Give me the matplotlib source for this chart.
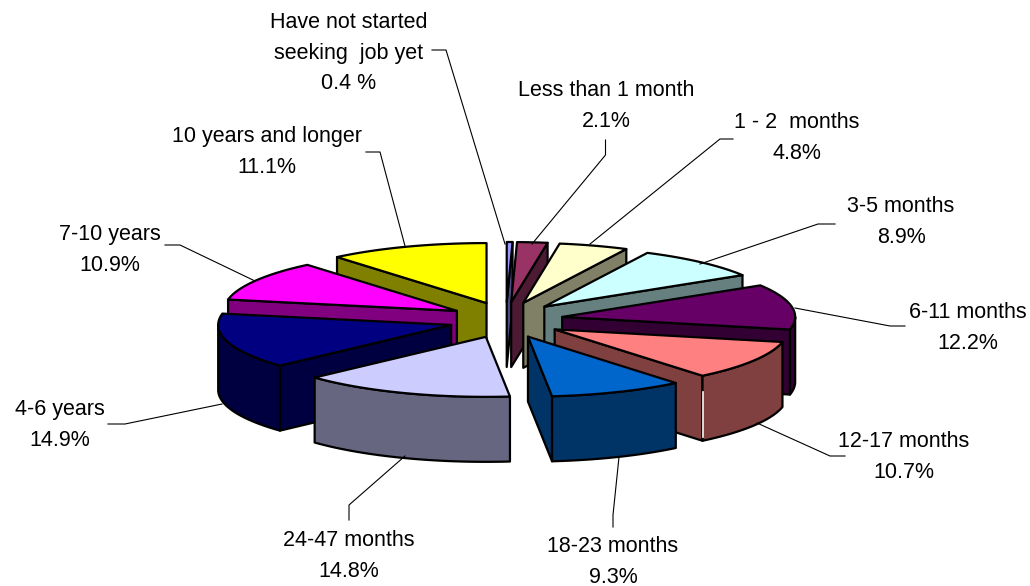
import numpy as np
import matplotlib
matplotlib.use("Agg")
import matplotlib.pyplot as plt
from matplotlib.patches import Polygon

plt.rcParams["font.family"] = ["Liberation Sans", "DejaVu Sans"]

# duration of job search, share in percent
labels = ["Have not started\nseeking  job yet\n0.4 %", "Less than 1 month\n2.1%", "1 - 2  months\n4.8%",
          "3-5 months\n8.9%", "6-11 months\n12.2%", "12-17 months\n10.7%", "18-23 months\n9.3%",
          "24-47 months\n14.8%", "4-6 years\n14.9%", "7-10 years\n10.9%", "10 years and longer\n11.1%"]
values = [0.4, 2.1, 4.8, 8.9, 12.2, 10.7, 9.3, 14.8, 14.9, 10.9, 11.1]
top_colors = ["#9999FF", "#993366", "#FFFFCC", "#CCFFFF", "#660066", "#FF8080",
              "#0066CC", "#CCCCFF", "#000080", "#FF00FF", "#FFFF00"]
side_colors = ["#4C4C80", "#4C1A33", "#808066", "#668080", "#330033", "#804040",
               "#003366", "#666680", "#000040", "#800080", "#808000"]

label_pos = [(349, 53), (606, 106), (797, 138), (901, 222), (968, 328), (904, 457),
             (613, 562), (349, 556), (60, 425), (110, 250), (267, 152)]
leaders = [[(432, 50), (446, 50), (505, 244)],
           [(605.5, 140), (605.5, 155), (532, 244)],
           [(733, 139), (720, 139), (590, 244)],
           [(835, 224), (818, 224), (700, 264)],
           [(905, 326), (890, 326), (795, 308)],
           [(845, 456), (830, 456), (757, 423)],
           [(613, 527), (613, 515), (619, 457)],
           [(349, 520), (349, 505), (405, 456)],
           [(108, 424), (125, 424), (222, 404)],
           [(165, 245), (180, 245), (255, 281)],
           [(366, 152), (380, 152), (405, 246)]]

CX, CY = 506, 320
RX, RY = 233, 60
EX, EY = 57, 18
DEPTH = 65


def rim(tip, angles):
    return np.column_stack([tip[0] + RX * np.sin(angles), tip[1] - RY * np.cos(angles)])


def draw_slice(ax, start, end, top, side):
    mid = (start + end) / 2
    tip = np.array([CX + EX * np.sin(mid), CY - EY * np.cos(mid)])
    style = dict(edgecolor="black", linewidth=1.6, joinstyle="round")
    down = np.array([0, DEPTH])

    def wall(points):
        points = np.asarray(points)
        ax.add_patch(Polygon(np.vstack([points, points[::-1] + down]), facecolor=side, **style))

    # radial faces, only the ones turned to the viewer
    if np.sin(start) < 0:
        wall([tip, rim(tip, np.array([start]))[0]])
    if np.sin(end) > 0:
        wall([tip, rim(tip, np.array([end]))[0]])

    # outer wall, front half of the rim
    lo, hi = max(start, np.pi / 2), min(end, 3 * np.pi / 2)
    if lo < hi:
        wall(rim(tip, np.linspace(lo, hi, 60)))

    arc = rim(tip, np.linspace(start, end, 80))
    ax.add_patch(Polygon(np.vstack([tip, arc]), facecolor=top, **style))


fig = plt.figure(figsize=(10.3, 5.86), dpi=100)
ax = fig.add_axes([0, 0, 1, 1])
ax.set_xlim(0, 1030)
ax.set_ylim(586, 0)
ax.axis("off")

edges = np.cumsum([0] + values) / sum(values) * 2 * np.pi
mids = (edges[:-1] + edges[1:]) / 2
# paint from the back of the pie to the front
for i in np.argsort(-np.cos(mids)):
    draw_slice(ax, edges[i], edges[i + 1], top_colors[i], side_colors[i])

# thin light gap in the 12-17 months wall
ax.plot([703, 703], [392, 437], color="white", linewidth=1.2, zorder=3)

for text, pos, line in zip(labels, label_pos, leaders):
    xs, ys = zip(*line)
    ax.plot(xs, ys, color="black", linewidth=0.8, zorder=4)
    ax.text(pos[0], pos[1], text, ha="center", va="center", fontsize=15.5,
            linespacing=1.6, color="black", zorder=5)

fig.savefig("out.png", dpi=100)
